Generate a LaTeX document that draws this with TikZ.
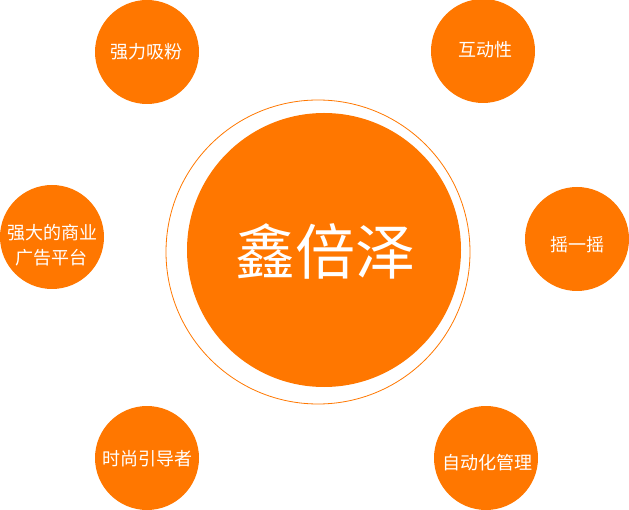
\documentclass[tikz,border=0pt]{standalone}
\usepackage{fontspec}
\setmainfont{Noto Sans CJK SC}
\usepackage{tikz}

\definecolor{xborange}{RGB}{255,119,0}

\tikzset{
	bubble/.style={circle, fill=xborange, minimum size=104pt, inner sep=0pt},
	bubbletext/.style={text=white, align=center, inner sep=0pt, font=\fontsize{18}{25}\selectfont},
}

\begin{document}
\begin{tikzpicture}[x=1pt, y=-1pt]
		
		\useasboundingbox (0,0) rectangle (629,510);
		
		% Centre
		\node[circle, draw=xborange, line width=0.8pt, minimum size=304pt, inner sep=0pt] (ring) at (318,252) {};
		\node[circle, fill=xborange, minimum size=274pt, inner sep=0pt] (core) at (324,250) {};
		\node[text=white, font=\fontsize{60}{62}\selectfont] (brand) at (325,251) {鑫倍泽};
		
		% Left side
		\node[bubble] (fans) at (147,52) {};
		\node[bubbletext] (fanstext) at (146,52) {强力吸粉};
		\node[bubble] (ads) at (52,237) {};
		\node[bubbletext] (adstext) at (52,245) {强大的商业\\广告平台};
		\node[bubble] (trend) at (147,458) {};
		\node[bubbletext] (trendtext) at (147,459) {时尚引导者};
		
		% Right side
		\node[bubble] (interact) at (483,51) {};
		\node[bubbletext] (interacttext) at (485,50) {互动性};
		\node[bubble] (shake) at (577,239) {};
		\node[bubbletext] (shaketext) at (577,245) {摇一摇};
		\node[bubble] (auto) at (486,458) {};
		\node[bubbletext] (autotext) at (487,463) {自动化管理};
		
	\end{tikzpicture}
\end{document}
